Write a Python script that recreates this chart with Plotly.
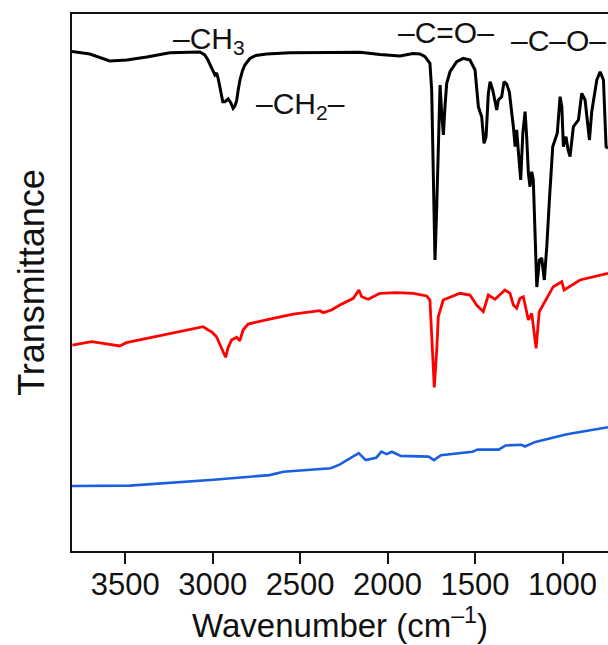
import plotly.graph_objects as go

# FTIR spectra: wavenumber (cm^-1) and transmittance (arbitrary offset units)
black_wn = [3804, 3702, 3588, 3491, 3376, 3245, 3073, 3045, 3027, 3006, 2997, 2987, 2978,
            2969, 2959, 2949, 2942, 2930, 2911, 2896, 2883, 2873, 2863, 2854, 2844, 2830,
            2816, 2787, 2753, 2692, 2558, 2330, 2158, 2044, 1929, 1855, 1815, 1786, 1769,
            1758, 1748, 1739, 1729, 1719, 1710, 1700, 1691, 1681, 1672, 1662, 1643, 1605,
            1567, 1529, 1500, 1481, 1472, 1462, 1449, 1437, 1424, 1414, 1399, 1386, 1376,
            1367, 1348, 1334, 1319, 1304, 1291, 1281, 1271, 1262, 1253, 1239, 1227, 1214,
            1205, 1195, 1186, 1176, 1167, 1157, 1147, 1132, 1119, 1104, 1090, 1075, 1056,
            1043, 1030, 1014, 1004, 995, 980, 968, 957, 938, 909, 890, 871, 846, 833, 804,
            785, 766, 751, 740]
black_t = [93.0, 92.55, 91.25, 91.43, 91.99, 92.79, 92.92, 92.37, 91.43, 89.94, 89.25, 88.64,
           89.01, 88.08, 86.46, 84.36, 83.67, 83.67, 84.17, 83.43, 82.44, 82.87, 83.80, 85.85,
           87.71, 89.39, 90.50, 91.71, 92.27, 92.55, 92.79, 92.83, 92.87, 92.46, 92.18, 92.64,
           92.55, 92.05, 91.43, 90.82, 85.85, 70.39, 54.19, 64.12, 77.84, 86.78, 81.56, 77.47,
           82.74, 87.10, 89.25, 91.12, 91.75, 91.43, 89.57, 82.74, 81.81, 80.88, 75.92, 77.15,
           85.23, 87.39, 85.85, 83.99, 82.12, 83.99, 84.60, 87.39, 86.96, 85.47, 82.12, 79.01,
           75.29, 78.40, 74.67, 69.09, 77.78, 81.81, 77.15, 70.34, 67.84, 70.63, 69.09, 60.39,
           49.16, 54.19, 54.56, 50.47, 56.67, 65.36, 75.29, 76.54, 77.78, 84.60, 82.74, 75.29,
           77.15, 74.67, 73.43, 79.01, 80.26, 85.23, 83.99, 76.54, 81.81, 87.71, 89.25, 87.71,
           75.29, 75.0]

red_wn = [3802, 3693, 3626, 3531, 3493, 3302, 3054, 3026, 3006, 2978, 2949, 2926, 2911,
          2892, 2863, 2845, 2826, 2797, 2654, 2540, 2387, 2368, 2320, 2273, 2196, 2164,
          2148, 2111, 2044, 1948, 1853, 1777, 1758, 1746, 1733, 1719, 1710, 1682, 1586,
          1529, 1491, 1453, 1424, 1386, 1329, 1300, 1281, 1262, 1243, 1224, 1205, 1195,
          1176, 1151, 1133, 1053, 1004, 991, 900, 804, 740]
red_t = [38.36, 38.98, 38.68, 38.18, 38.79, 40.04, 41.77, 41.15, 40.84, 39.91, 37.75, 36.07,
         37.93, 39.29, 39.80, 39.16, 41.15, 42.27, 43.33, 44.13, 44.75, 44.38, 44.88, 45.81,
         47.06, 48.60, 47.36, 46.87, 47.99, 48.10, 47.99, 47.49, 46.74, 37.43, 30.48, 37.43,
         43.63, 46.74, 47.99, 47.67, 45.81, 44.56, 47.67, 46.87, 48.60, 47.99, 45.81, 45.20,
         47.06, 47.36, 44.26, 43.02, 44.26, 37.75, 44.56, 49.22, 50.15, 48.60, 50.47, 51.21,
         51.71]

blue_wn = [3804, 3474, 2994, 2675, 2595, 2325, 2275, 2165, 2125, 2065, 2035, 2005, 1975,
           1925, 1765, 1735, 1695, 1515, 1485, 1365, 1325, 1235, 1215, 1155, 975, 740]
blue_t = [12.10, 12.18, 13.28, 14.13, 14.77, 15.42, 16.07, 18.23, 16.93, 17.37, 18.49, 18.03,
          18.49, 17.71, 17.58, 16.93, 17.84, 18.49, 18.88, 18.88, 19.66, 19.79, 19.46, 20.32,
          21.73, 23.04]

tick_vals = [3500, 3000, 2500, 2000, 1500, 1000]

# Band assignments: (label, wavenumber, transmittance)
band_labels = ["–CH<sub>3</sub>", "–CH<sub>2</sub>–", "–C=O–", "–C–O–"]
band_wn = [3022, 2496, 1666, 1023]
band_t = [95.0, 83.0, 96.5, 95.0]

FONT = "Liberation Sans, Arial, sans-serif"
INK = "#111111"

fig = go.Figure()
fig.add_trace(go.Scatter(x=blue_wn, y=blue_t, mode="lines",
                         line=dict(color="#1a5fe0", width=2.6), showlegend=False))
fig.add_trace(go.Scatter(x=red_wn, y=red_t, mode="lines",
                         line=dict(color="#ff0000", width=2.8), showlegend=False))
fig.add_trace(go.Scatter(x=black_wn, y=black_t, mode="lines",
                         line=dict(color="#000000", width=3), showlegend=False))

for text, xv, yv in zip(band_labels, band_wn, band_t):
    fig.add_annotation(x=xv, y=yv, xref="x", yref="y", text=text, showarrow=False,
                       font=dict(family=FONT, size=30, color=INK),
                       xanchor="center", yanchor="middle")

fig.update_layout(
    width=608, height=645,
    margin=dict(l=72, r=0, t=14, b=94),
    paper_bgcolor="white", plot_bgcolor="white",
    font=dict(family=FONT, color=INK),
    xaxis=dict(
        range=[3804, 740], tickvals=tick_vals,
        ticks="outside", ticklen=11, tickwidth=2, tickcolor=INK,
        showline=True, linewidth=2, linecolor=INK, mirror=True,
        showgrid=False, zeroline=False, ticklabelstandoff=-6,
        tickfont=dict(size=31, family=FONT, color=INK),
        title=dict(text="Wavenumber (cm<sup>–1</sup>)",
                   font=dict(size=33, family=FONT, color=INK), standoff=8),
    ),
    yaxis=dict(
        range=[0, 100], showticklabels=False, ticks="",
        showline=True, linewidth=2, linecolor=INK,
        showgrid=False, zeroline=False,
        title=dict(text="Transmittance",
                   font=dict(size=36, family=FONT, color=INK), standoff=14),
    ),
)

fig.write_html("out.html")
